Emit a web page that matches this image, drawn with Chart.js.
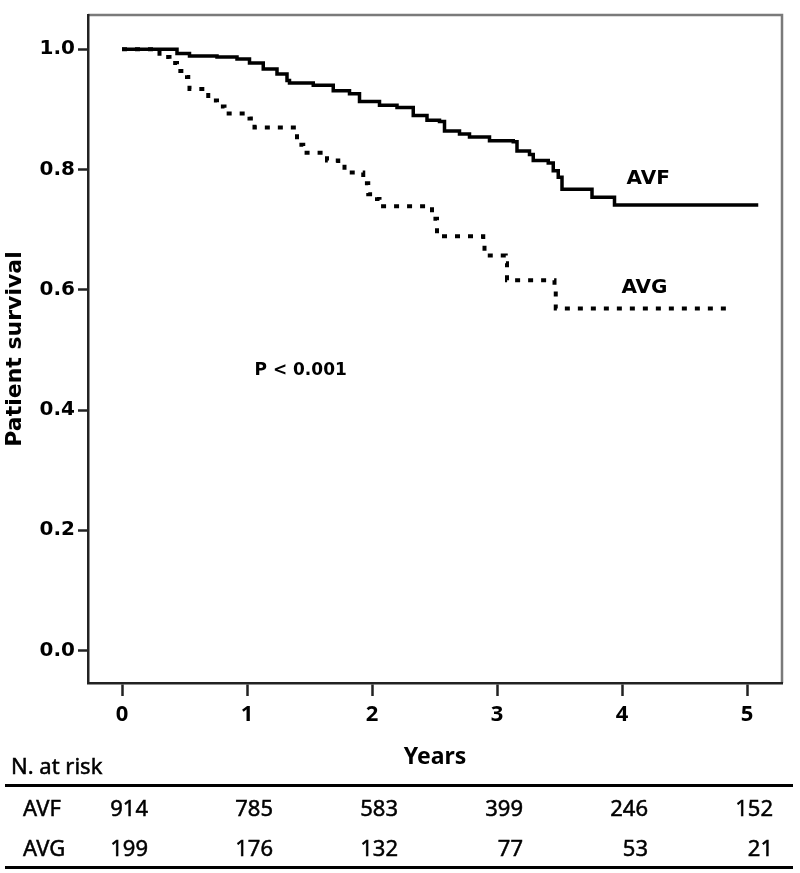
<!DOCTYPE html>
<html>
<head>
<meta charset="utf-8">
<script src="https://cdn.jsdelivr.net/npm/chart.js@4.4.0/dist/chart.umd.min.js"></script>
<style>
  html, body { margin: 0; padding: 0; background: #fff; }
  #wrap { position: relative; width: 800px; height: 873px; overflow: hidden; }
  #wrap canvas { position: absolute; left: 0; top: 0; }
  .risk { position: absolute; font-family: "Noto Sans", sans-serif; font-size: 22px; line-height: 30px; color: #000; white-space: nowrap; -webkit-text-stroke: 0.5px #000; }
  .rule { position: absolute; left: 5px; width: 788px; height: 3px; background: #000; }
</style>
</head>
<body>
<div id="wrap">
  <canvas id="km" width="800" height="873"></canvas>
  <div id="riskTable"></div>
</div>
<script>
// Kaplan-Meier steps: time in years and survival after each drop
const avfTimes = [0, 0.28, 0.44, 0.54, 0.76, 0.92, 1.02, 1.13, 1.24, 1.32, 1.34, 1.53, 1.69, 1.82, 1.90, 2.06, 2.20, 2.33, 2.44, 2.54, 2.58, 2.70, 2.78, 2.94, 3.13, 3.16, 3.26, 3.29, 3.41, 3.45, 3.49, 3.52, 3.76, 3.94, 5.09];
const avfSurv  = [1.0, 1.0, 0.993, 0.989, 0.987, 0.984, 0.977, 0.967, 0.959, 0.948, 0.944, 0.940, 0.931, 0.926, 0.913, 0.907, 0.903, 0.890, 0.882, 0.880, 0.864, 0.859, 0.854, 0.848, 0.846, 0.831, 0.825, 0.815, 0.811, 0.798, 0.787, 0.767, 0.754, 0.741, 0.741];

const avgTimes = [0, 0.30, 0.38, 0.44, 0.52, 0.53, 0.54, 0.69, 0.76, 0.82, 1.02, 1.06, 1.40, 1.45, 1.64, 1.73, 1.78, 1.93, 1.97, 2.04, 2.06, 2.48, 2.52, 2.89, 2.90, 3.07, 3.08, 3.46, 3.47, 4.88];
const avgSurv  = [1.0, 0.987, 0.977, 0.964, 0.954, 0.946, 0.934, 0.915, 0.905, 0.893, 0.885, 0.870, 0.841, 0.828, 0.815, 0.810, 0.795, 0.777, 0.759, 0.751, 0.739, 0.718, 0.689, 0.679, 0.657, 0.644, 0.616, 0.598, 0.569, 0.569];

const yearTicks = [0, 1, 2, 3, 4, 5];
const survTicks = [0, 0.2, 0.4, 0.6, 0.8, 1.0];

// numbers at risk at each year
const groups = ['AVF', 'AVG'];
const riskAVF = [914, 785, 583, 399, 246, 152];
const riskAVG = [199, 176, 132, 77, 53, 21];

function toPoints(xs, ys) {
  return xs.map((x, i) => ({ x: x, y: ys[i] }));
}

// gray top/right frame and curve labels
const framePlugin = {
  id: 'frame',
  beforeDraw(chart) {
    const { ctx, chartArea } = chart;
    ctx.save();
    ctx.strokeStyle = '#7a7a7a';
    ctx.lineWidth = 2.5;
    ctx.beginPath();
    ctx.moveTo(chartArea.left, chartArea.top);
    ctx.lineTo(chartArea.right, chartArea.top);
    ctx.lineTo(chartArea.right, chartArea.bottom);
    ctx.stroke();
    ctx.restore();
  },
  afterDraw(chart) {
    const { ctx } = chart;
    const x = chart.scales.x, y = chart.scales.y;
    ctx.save();
    ctx.fillStyle = '#000';
    ctx.textBaseline = 'middle';
    ctx.font = 'bold 20px "DejaVu Sans"';
    ctx.textAlign = 'center';
    ctx.fillText('AVF', x.getPixelForValue(4.21), y.getPixelForValue(0.784));
    ctx.fillText('AVG', x.getPixelForValue(4.18), y.getPixelForValue(0.603));
    ctx.font = 'bold 17px "DejaVu Sans"';
    ctx.textAlign = 'left';
    ctx.fillText('P < 0.001', x.getPixelForValue(1.06), y.getPixelForValue(0.466));
    ctx.restore();
  }
};

const chart = new Chart(document.getElementById('km'), {
  type: 'line',
  data: {
    datasets: [
      {
        label: 'AVF',
        data: toPoints(avfTimes, avfSurv),
        borderColor: '#000',
        borderWidth: 3.5,
        stepped: 'before',
        pointRadius: 0,
        fill: false
      },
      {
        label: 'AVG',
        data: toPoints(avgTimes, avgSurv),
        borderColor: '#000',
        borderWidth: 4,
        borderDash: [5, 8],
        stepped: 'before',
        pointRadius: 0,
        fill: false
      }
    ]
  },
  options: {
    responsive: false,
    devicePixelRatio: 1,
    animation: false,
    layout: { padding: { left: 0, top: 5, right: 18, bottom: 102 } },
    plugins: { legend: { display: false }, tooltip: { enabled: false } },
    scales: {
      x: {
        type: 'linear',
        min: -0.272,
        max: 5.28,
        afterBuildTicks: s => { s.ticks = yearTicks.map(v => ({ value: v })); },
        afterFit: s => { s.height = 88; },
        ticks: {
          callback: v => String(v),
          color: '#000',
          padding: 6,
          maxRotation: 0,
          font: { family: 'Noto Sans', weight: 'bold', size: 22 }
        },
        grid: { drawOnChartArea: false, drawTicks: true, tickLength: 13, tickWidth: 2.5, color: '#222' },
        border: { display: true, color: '#222', width: 2.5 },
        title: {
          display: true,
          text: 'Years',
          color: '#000',
          padding: { top: 0, bottom: 0 },
          font: { family: 'Noto Sans', weight: 'bold', size: 23 }
        }
      },
      y: {
        min: -0.054,
        max: 1.057,
        afterBuildTicks: s => { s.ticks = survTicks.map(v => ({ value: v })); },
        afterFit: s => { s.width = 88; },
        ticks: {
          callback: v => v.toFixed(1),
          color: '#000',
          padding: 3,
          font: { family: 'DejaVu Sans', weight: 'bold', size: 20 }
        },
        grid: { drawOnChartArea: false, drawTicks: true, tickLength: 10, tickWidth: 2.5, color: '#222' },
        border: { display: true, color: '#222', width: 2.5 },
        title: {
          display: true,
          text: 'Patient survival',
          color: '#000',
          padding: { top: 2, bottom: 0 },
          font: { family: 'DejaVu Sans', weight: 'bold', size: 22 }
        }
      }
    }
  },
  plugins: [framePlugin]
});

// number-at-risk table under the axis, columns lined up with the year ticks
function buildRiskTable() {
  const table = document.getElementById('riskTable');
  const xs = chart.scales.x;
  const rows = [riskAVF, riskAVG];
  const rowTop = [792, 832];

  const head = document.createElement('div');
  head.className = 'risk';
  head.style.left = '11px';
  head.style.top = '750px';
  head.textContent = 'N. at risk';
  table.appendChild(head);

  [784, 866].forEach(top => {
    const line = document.createElement('div');
    line.className = 'rule';
    line.style.top = top + 'px';
    table.appendChild(line);
  });

  rows.forEach((vals, r) => {
    const name = document.createElement('div');
    name.className = 'risk';
    name.style.left = '23px';
    name.style.top = rowTop[r] + 'px';
    name.textContent = groups[r];
    table.appendChild(name);

    vals.forEach((v, i) => {
      const cell = document.createElement('div');
      cell.className = 'risk';
      const right = xs.getPixelForValue(yearTicks[i]) + 26;
      cell.style.left = (right - 100) + 'px';
      cell.style.width = '100px';
      cell.style.textAlign = 'right';
      cell.style.top = rowTop[r] + 'px';
      cell.textContent = v;
      table.appendChild(cell);
    });
  });
}
buildRiskTable();
</script>
</body>
</html>
